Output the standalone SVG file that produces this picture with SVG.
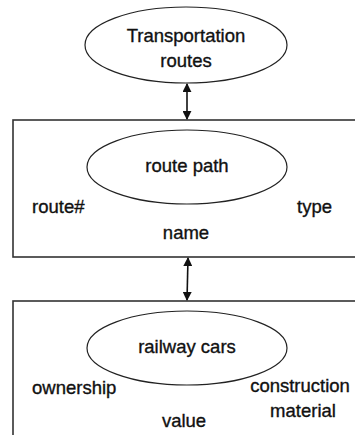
<svg xmlns="http://www.w3.org/2000/svg" width="355" height="435" viewBox="0 0 355 435">
<defs>
<style>
.t{font-family:"Liberation Sans",Arial,sans-serif;font-size:18.5px;fill:#111;stroke:#111;stroke-width:0.35}
.m{text-anchor:middle}
.e{fill:none;stroke:#222;stroke-width:1.2}
.b{fill:none;stroke:#333;stroke-width:1.6}
.c{stroke:#111;stroke-width:1.6;fill:none}
</style>
<marker id="ah" viewBox="0 0 10 10" refX="9" refY="5" markerWidth="9" markerHeight="9" markerUnits="userSpaceOnUse" orient="auto-start-reverse">
<path d="M0,0 L10,5 L0,10 z" fill="#111"/>
</marker>
</defs>
<rect width="355" height="435" fill="#fff"/>
<g id="transportation-routes">
<ellipse class="e" cx="186" cy="45" rx="101" ry="38"/>
<text class="t m" x="186" y="42">Transportation</text>
<text class="t m" x="186" y="67">routes</text>
</g>
<g id="route-path-entity">
<rect class="b" x="13" y="120" width="400" height="137"/>
<ellipse class="e" cx="187" cy="167" rx="100" ry="37"/>
<text class="t m" x="187" y="172">route path</text>
<text class="t" x="32" y="213">route#</text>
<text class="t" x="297" y="213">type</text>
<text class="t m" x="186" y="239">name</text>
</g>
<g id="railway-cars-entity">
<rect class="b" x="13" y="301" width="400" height="200"/>
<ellipse class="e" cx="187" cy="348" rx="100" ry="37"/>
<text class="t m" x="187" y="353">railway cars</text>
<text class="t" x="32" y="394">ownership</text>
<text class="t m" x="300" y="392">construction</text>
<text class="t m" x="303" y="417">material</text>
<text class="t m" x="184" y="427">value</text>
</g>
<g id="connectors">
<line class="c" x1="187" y1="84" x2="187" y2="119" marker-start="url(#ah)" marker-end="url(#ah)"/>
<line class="c" x1="188" y1="258" x2="187" y2="300" marker-start="url(#ah)" marker-end="url(#ah)"/>
</g>
</svg>
